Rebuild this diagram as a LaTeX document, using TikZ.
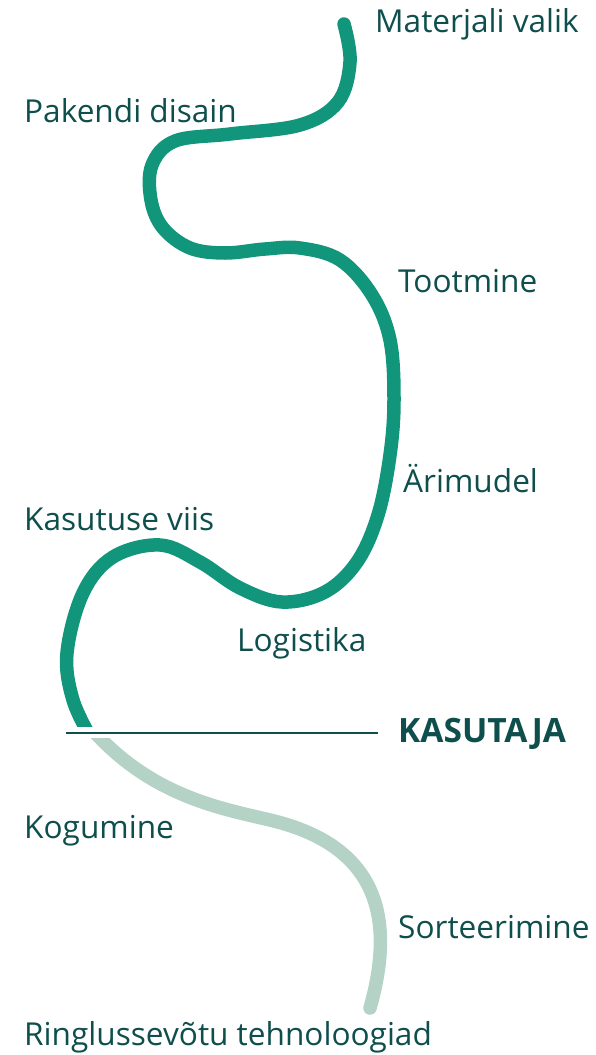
\documentclass[tikz,border=0pt]{standalone}
\usepackage{fontspec}
\setmainfont{Open Sans}
\definecolor{txt}{HTML}{0E4F4D}
\definecolor{grn}{HTML}{12967B}
\definecolor{lgt}{HTML}{B4D2C6}
\begin{document}
\begin{tikzpicture}[x=1bp,y=-1bp,
  lbl/.style={anchor=west,inner sep=0pt,text=txt,font=\fontsize{31.6bp}{36bp}\selectfont},
  road/.style={line width=13.5bp,line cap=round}]
\useasboundingbox (0,0) rectangle (596,1055);
\begin{scope}
\clip (0,0) rectangle (596,726);
\draw[road,grn] plot[smooth,tension=0.6] coordinates {(344,24) (350,62) (338,102) (300,125) (230,134) (175,141) (152,165) (151,200) (163,228) (190,248) (225,253) (265,249) (300,248) (340,260) (372,295) (390,340) (394,400) (390,455) (378,515) (357,562) (325,592) (282,602) (240,588) (200,562) (160,545) (113,557) (83,593) (67,653) (73,700) (92,740)};
\end{scope}
\begin{scope}
\clip (0,738) rectangle (596,1055);
\draw[road,lgt] (78,712) .. controls (140,795) and (220,808) .. (270,820) .. controls (380,846) and (395,920) .. (370,1008);
\end{scope}
\coordinate (la) at (66,733);
\coordinate (lb) at (378,733);
\draw[txt,line width=2bp] (la) -- (lb);
\node[lbl] (n1) at (375,24) {Materjali valik};
\node[lbl] (n2) at (24,111) {Pakendi disain};
\node[lbl] (n3) at (398,281) {Tootmine};
\node[lbl] (n4) at (403,479) {Ärimudel};
\node[lbl] (n5) at (24,519) {Kasutuse viis};
\node[lbl] (n6) at (237,643) {Logistika};
\node[lbl,font=\fontsize{33.5bp}{36bp}\selectfont\bfseries] (n7) at (398,734) {KASUTAJA};
\node[lbl] (n8) at (24,831) {Kogumine};
\node[lbl] (n9) at (398,927) {Sorteerimine};
\node[lbl] (n10) at (24,1037) {Ringlussevõtu tehnoloogiad};
\end{tikzpicture}
\end{document}
